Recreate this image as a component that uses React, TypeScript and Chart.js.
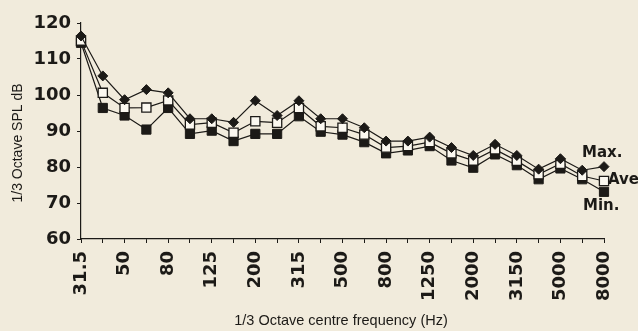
import React, { useEffect, useRef } from 'react';
import { Chart, registerables } from 'chart.js';

Chart.register(...registerables);

const frequencies = ['31.5', '40', '50', '63', '80', '100', '125', '160', '200', '250', '315', '400', '500', '630', '800', '1000', '1250', '1600', '2000', '2500', '3150', '4000', '5000', '6300', '8000'];
const maxSPL = [116.4, 105.3, 98.7, 101.5, 100.6, 93.4, 93.4, 92.4, 98.4, 94.3, 98.4, 93.4, 93.4, 90.9, 87.2, 87.2, 88.3, 85.4, 83.2, 86.3, 83.2, 79.4, 82.3, 79.1, 80.1];
const aveSPL = [115.1, 100.6, 96.4, 96.5, 98.5, 91.8, 92.3, 89.5, 92.7, 92.3, 96.4, 91.3, 90.9, 89.0, 85.4, 85.8, 86.9, 83.8, 81.8, 84.9, 81.7, 78.0, 80.9, 77.5, 76.1];
const minSPL = [114.5, 96.4, 94.3, 90.4, 96.4, 89.2, 90.1, 87.2, 89.2, 89.2, 94.1, 89.8, 89.0, 86.9, 83.8, 84.6, 85.8, 81.8, 79.8, 83.5, 80.5, 76.6, 79.6, 76.6, 73.1];
const yMin = 60;
const yMax = 120;
const yStep = 10;
const seriesLabels = ['Max.', 'Ave', 'Min.'];
const xTitle = '1/3 Octave centre frequency (Hz)';
const yTitle = '1/3 Octave SPL dB';

const INK = '#1c1a17';
const PAPER = '#f1ebdc';

export default function App() {
  const ref = useRef<HTMLCanvasElement | null>(null);

  useEffect(() => {
    const canvas = ref.current;
    if (!canvas) return;

    const labelsPlugin = {
      id: 'extraText',
      afterDraw(chart: any) {
        const ctx = chart.ctx;
        const xs = chart.scales.x;
        const ys = chart.scales.y;
        const last = frequencies.length - 1;
        const px = xs.getPixelForValue(last);
        ctx.save();
        ctx.fillStyle = INK;
        ctx.textBaseline = 'middle';
        ctx.textAlign = 'left';
        ctx.font = 'bold 15px "DejaVu Sans"';
        ctx.fillText(seriesLabels[0], px - 22, ys.getPixelForValue(maxSPL[last]) - 14);
        ctx.fillText(seriesLabels[1], px + 4, ys.getPixelForValue(aveSPL[last]) - 1);
        ctx.fillText(seriesLabels[2], px - 21, ys.getPixelForValue(minSPL[last]) + 14);
        // axis titles
        ctx.textAlign = 'center';
        ctx.font = '14.5px "Liberation Sans"';
        ctx.fillText(xTitle, 341, 321);
        ctx.translate(18, 143);
        ctx.rotate(-Math.PI / 2);
        ctx.font = '14px "Liberation Sans"';
        ctx.fillText(yTitle, 0, 0);
        ctx.restore();
      },
    };

    const chart = new Chart(canvas, {
      type: 'line',
      data: {
        labels: frequencies,
        datasets: [
          {
            label: seriesLabels[0],
            data: maxSPL,
            borderColor: INK,
            borderWidth: 1.2,
            pointStyle: 'rectRot',
            pointRadius: 5,
            pointBackgroundColor: INK,
            pointBorderColor: INK,
            pointBorderWidth: 1,
            tension: 0,
          },
          {
            label: seriesLabels[1],
            data: aveSPL,
            borderColor: INK,
            borderWidth: 1.2,
            pointStyle: 'rect',
            pointRadius: 6.5,
            pointBackgroundColor: '#fbf8f0',
            pointBorderColor: INK,
            pointBorderWidth: 1.3,
            tension: 0,
          },
          {
            label: seriesLabels[2],
            data: minSPL,
            borderColor: INK,
            borderWidth: 1.2,
            pointStyle: 'rect',
            pointRadius: 6.5,
            pointBackgroundColor: INK,
            pointBorderColor: INK,
            pointBorderWidth: 1,
            tension: 0,
          },
        ],
      },
      options: {
        animation: false,
        responsive: false,
        devicePixelRatio: 1,
        layout: { padding: { top: 23, right: 34, left: 0, bottom: 0 } },
        plugins: {
          legend: { display: false },
          tooltip: { enabled: false },
          title: { display: false },
        },
        scales: {
          x: {
            type: 'category',
            offset: false,
            afterFit(scale: any) {
              scale.height = 92;
            },
            grid: {
              drawOnChartArea: false,
              drawTicks: true,
              tickLength: 4,
              color: INK,
            },
            border: { display: true, color: INK, width: 1.2, dash: [9, 3] },
            ticks: {
              autoSkip: false,
              maxRotation: 90,
              minRotation: 90,
              padding: 8,
              color: INK,
              font: { family: '"DejaVu Sans"', size: 18, weight: 'bold' },
              callback: (_v: any, i: number) => (i % 2 === 0 ? frequencies[i] : ''),
            },
          },
          y: {
            min: yMin,
            max: yMax,
            afterFit(scale: any) {
              scale.width = 81;
            },
            grid: {
              drawOnChartArea: false,
              drawTicks: true,
              tickLength: 4,
              color: INK,
            },
            border: { display: true, color: INK, width: 1.2, dash: [6, 2] },
            ticks: {
              stepSize: yStep,
              padding: 6,
              color: INK,
              font: { family: '"DejaVu Sans"', size: 18, weight: 'bold' },
            },
          },
        },
      },
      plugins: [labelsPlugin],
    });

    return () => chart.destroy();
  }, []);

  return (
    <div style={{ position: 'fixed', left: 0, top: 0, width: 638, height: 331, background: PAPER }}>
      <canvas ref={ref} width={638} height={331} style={{ display: 'block' }} />
    </div>
  );
}
